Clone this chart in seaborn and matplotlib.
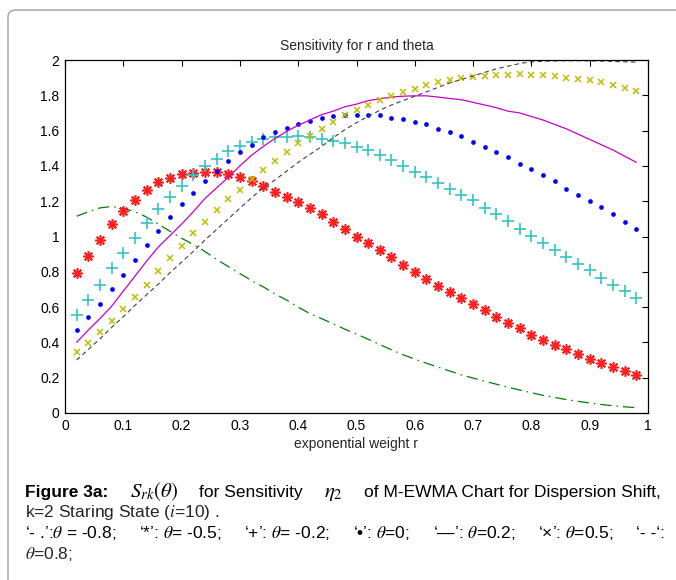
import numpy as np
import pandas as pd
import matplotlib
matplotlib.use("Agg")
import matplotlib.pyplot as plt
import seaborn as sns
from matplotlib.patches import FancyBboxPatch

# ---------------- data ----------------
r = [round(0.02 * i, 2) for i in range(1, 50)]

theta_m08 = [1.115, 1.14, 1.162, 1.17, 1.16, 1.14, 1.11, 1.07, 1.03, 0.99,
             0.955, 0.915, 0.87, 0.83, 0.79, 0.75, 0.715, 0.675, 0.64, 0.60,
             0.563, 0.535, 0.505, 0.475, 0.447, 0.418, 0.388, 0.358, 0.33, 0.305,
             0.282, 0.26, 0.238, 0.216, 0.198, 0.18, 0.163, 0.146, 0.13, 0.115,
             0.10, 0.088, 0.076, 0.066, 0.057, 0.048, 0.041, 0.035, 0.03]

theta_m05 = [0.794, 0.889, 0.983, 1.072, 1.147, 1.208, 1.262, 1.307, 1.334, 1.353,
             1.362, 1.368, 1.364, 1.353, 1.337, 1.315, 1.286, 1.254, 1.224, 1.194,
             1.160, 1.125, 1.081, 1.040, 1.0, 0.966, 0.925, 0.883, 0.840, 0.800,
             0.762, 0.721, 0.685, 0.651, 0.617, 0.581, 0.545, 0.509, 0.479, 0.443,
             0.413, 0.383, 0.360, 0.332, 0.308, 0.285, 0.260, 0.238, 0.213]

theta_m02 = [0.555, 0.642, 0.728, 0.819, 0.909, 0.994, 1.075, 1.157, 1.224, 1.286,
             1.347, 1.402, 1.438, 1.483, 1.512, 1.536, 1.550, 1.565, 1.565, 1.568,
             1.565, 1.553, 1.542, 1.527, 1.508, 1.489, 1.459, 1.432, 1.402, 1.368,
             1.337, 1.305, 1.267, 1.233, 1.204, 1.160, 1.125, 1.085, 1.043, 1.002,
             0.966, 0.926, 0.883, 0.843, 0.811, 0.766, 0.728, 0.691, 0.651]

theta_0 = [0.472, 0.542, 0.619, 0.702, 0.783, 0.866, 0.953, 1.032, 1.113, 1.185,
           1.247, 1.313, 1.370, 1.425, 1.478, 1.521, 1.565, 1.591, 1.616, 1.638,
           1.655, 1.674, 1.682, 1.690, 1.691, 1.686, 1.686, 1.674, 1.663, 1.650,
           1.635, 1.610, 1.591, 1.567, 1.538, 1.508, 1.479, 1.451, 1.413, 1.385,
           1.349, 1.313, 1.269, 1.235, 1.202, 1.166, 1.126, 1.083, 1.042]

theta_02 = [0.40, 0.47, 0.535, 0.605, 0.69, 0.775, 0.86, 0.94, 1.005, 1.07,
            1.14, 1.215, 1.275, 1.335, 1.40, 1.46, 1.51, 1.555, 1.595, 1.63,
            1.66, 1.69, 1.71, 1.735, 1.75, 1.77, 1.78, 1.79, 1.795, 1.797,
            1.797, 1.79, 1.782, 1.775, 1.76, 1.745, 1.73, 1.71, 1.70, 1.68,
            1.66, 1.635, 1.61, 1.58, 1.55, 1.52, 1.49, 1.455, 1.42]

theta_05 = [0.345, 0.398, 0.458, 0.521, 0.592, 0.658, 0.728, 0.806, 0.877, 0.947,
            1.017, 1.083, 1.149, 1.213, 1.262, 1.324, 1.375, 1.430, 1.478, 1.527,
            1.568, 1.608, 1.648, 1.686, 1.714, 1.743, 1.773, 1.797, 1.818, 1.837,
            1.856, 1.875, 1.885, 1.896, 1.905, 1.909, 1.915, 1.917, 1.920, 1.917,
            1.915, 1.907, 1.900, 1.892, 1.886, 1.875, 1.858, 1.841, 1.822]

theta_08 = [0.30, 0.36, 0.42, 0.485, 0.545, 0.61, 0.67, 0.73, 0.795, 0.855,
            0.915, 0.98, 1.04, 1.10, 1.16, 1.22, 1.275, 1.32, 1.37, 1.42,
            1.465, 1.51, 1.56, 1.605, 1.645, 1.68, 1.715, 1.745, 1.77, 1.795,
            1.82, 1.845, 1.87, 1.89, 1.91, 1.93, 1.95, 1.965, 1.98, 1.99,
            1.993, 1.995, 1.996, 1.996, 1.995, 1.994, 1.992, 1.99, 1.988]

x_ticks = [0, 0.1, 0.2, 0.3, 0.4, 0.5, 0.6, 0.7, 0.8, 0.9, 1]
x_tick_labels = ["0", "0.1", "0.2", "0.3", "0.4", "0.5", "0.6", "0.7", "0.8", "0.9", "1"]
y_ticks = [0, 0.2, 0.4, 0.6, 0.8, 1, 1.2, 1.4, 1.6, 1.8, 2]
y_tick_labels = ["0", "0.2", "0.4", "0.6", "0.8", "1", "1.2", "1.4", "1.6", "1.8", "2"]

title = "Sensitivity for r and theta"
xlabel = "exponential weight r"

caption_line1 = ["Figure 3a:", r"$S_{rk}(\theta)$", "for Sensitivity", r"$\eta_2$",
                 "of M-EWMA Chart for Dispersion Shift,"]
caption_line2 = r"k=2 Staring State ($i$=10) ."
caption_line3 = ["\u2018- .\u2019:$\\theta$ = -0.8;", "\u2018*\u2019: $\\theta$= -0.5;",
                 "\u2018+\u2019: $\\theta$= -0.2;", "\u2018\u2022\u2019: $\\theta$=0;",
                 "\u2018\u2014\u2019: $\\theta$=0.2;", "\u2018\u00d7\u2019: $\\theta$=0.5;",
                 "\u2018- -\u2018:"]
caption_line4 = "$\\theta$=0.8;"

# ---------------- style ----------------
sns.set_style("white")
plt.rcParams["font.family"] = ["Liberation Sans", "DejaVu Sans"]
plt.rcParams["mathtext.fontset"] = "stix"

W, H = 676, 580
fig = plt.figure(figsize=(W / 100, H / 100), dpi=100)
fig.patch.set_facecolor("white")

# rounded frame around the figure area
frame = FancyBboxPatch((8 / W, -0.2), 1.2, 1.2 - 10 / H,
                       boxstyle="round,pad=0,rounding_size=0.012",
                       transform=fig.transFigure, facecolor="none",
                       edgecolor="#a0a0a0", linewidth=1.0)
fig.patches.append(frame)

ax = fig.add_axes([65 / W, 1 - 413 / H, 583 / W, 353 / H])

df = pd.DataFrame({"r": r, "m08": theta_m08, "m05": theta_m05, "m02": theta_m02,
                   "z0": theta_0, "p02": theta_02, "p05": theta_05, "p08": theta_08})

c_green, c_red, c_cyan = "#008000", "#ff1f1f", "#33c4c4"
c_blue, c_mag, c_yel, c_blk = "#0000ff", "#c800c8", "#bfbf00", "#404040"

sns.lineplot(data=df, x="r", y="m08", ax=ax, color=c_green, linewidth=0.9,
             linestyle=(0, (9, 4, 1.2, 4)))
sns.lineplot(data=df, x="r", y="m05", ax=ax, color=c_red, linestyle="none",
             marker=(8, 2, 0), markersize=7.5, markeredgewidth=1.2,
             markeredgecolor=c_red)
sns.lineplot(data=df, x="r", y="m02", ax=ax, color=c_cyan, linestyle="none",
             marker="+", markersize=9, markeredgewidth=1.2,
             markeredgecolor=c_cyan)
sns.lineplot(data=df, x="r", y="z0", ax=ax, color=c_blue, linestyle="none",
             marker="o", markersize=3.4, markeredgewidth=0,
             markeredgecolor=c_blue)
sns.lineplot(data=df, x="r", y="p02", ax=ax, color=c_mag, linewidth=0.9)
sns.lineplot(data=df, x="r", y="p05", ax=ax, color=c_yel, linestyle="none",
             marker="x", markersize=5, markeredgewidth=1.1,
             markeredgecolor=c_yel)
sns.lineplot(data=df, x="r", y="p08", ax=ax, color=c_blk, linewidth=0.8,
             linestyle=(0, (4, 3)))

ax.set_xlim(0, 1)
ax.set_ylim(0, 2)
ax.set_xticks(x_ticks)
ax.set_xticklabels(x_tick_labels)
ax.set_yticks(y_ticks)
ax.set_yticklabels(y_tick_labels)
ax.tick_params(direction="in", length=4, width=0.8, top=True, right=True,
               labelsize=10, colors="black", pad=4)
for s in ax.spines.values():
    s.set_visible(True)
    s.set_color("black")
    s.set_linewidth(0.9)
ax.set_title(title, fontsize=10, pad=7)
ax.set_xlabel(xlabel, fontsize=10, labelpad=3)
ax.set_ylabel("")

# ---------------- caption ----------------
cap_fs = 12.5
renderer = fig.canvas.get_renderer()


def line(segments, x0, x1, y_base, bold_first=False, sizes=None):
    """Lay out segments left to right, spreading spare room evenly between them."""
    texts, widths = [], []
    for i, s in enumerate(segments):
        fw = "bold" if (bold_first and i == 0) else "normal"
        fs = sizes[i] if sizes else cap_fs
        t = fig.text(0, 1 - y_base / H, s, fontsize=fs, fontweight=fw,
                     va="baseline", ha="left", color="black")
        texts.append(t)
        widths.append(t.get_window_extent(renderer).width)
    n = len(segments)
    gap = (x1 - x0 - sum(widths)) / (n - 1) if n > 1 else 0
    x = x0
    for t, w in zip(texts, widths):
        t.set_x(x / W)
        x += w + gap


line(caption_line1, 25, 661, 497, bold_first=True,
     sizes=[cap_fs, 15, cap_fs, 15, cap_fs])
fig.text(25 / W, 1 - 517 / H, caption_line2, fontsize=cap_fs, va="baseline", ha="left")
line(caption_line3, 25, 665, 538)
fig.text(25 / W, 1 - 559 / H, caption_line4, fontsize=cap_fs, va="baseline", ha="left")

fig.savefig("out.png", dpi=100, facecolor="white")
